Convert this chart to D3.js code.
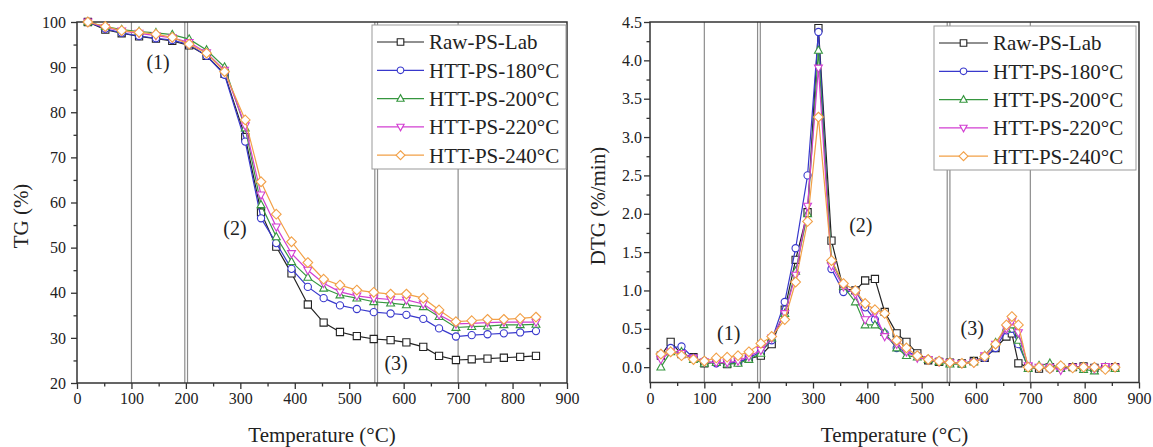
<!DOCTYPE html>
<meta charset="utf-8">

<style> /* set the CSS */

body { margin: 0; background: #fff; }

svg text {
	font-family: "Liberation Serif", Tinos, "DejaVu Serif", serif !important;
	fill: #222;
}

.frame {
	fill: none;
	stroke: #333;
	stroke-width: 1.5px;
}

.bound {
	stroke: #8c8c8c;
	stroke-width: 1.2px;
}

.curve {
	fill: none;
	stroke-width: 1.2px;
}

.axis line { stroke: #333; stroke-width: 1.3px; }
.axis path { display: none; }
.axis text { font-size: 16px; }

.legend-box {
	fill: #fff;
	stroke: #999;
	stroke-width: 1px;
}

</style>

<body>

<!-- load the d3.js library -->
<script src="https://d3js.org/d3.v7.min.js"></script>

<script>

	// series labels
	var names = ["Raw-PS-Lab", "HTT-PS-180°C", "HTT-PS-200°C", "HTT-PS-220°C", "HTT-PS-240°C"];

	// TG data (%), temperature in °C
	var tgTemp = [20, 52, 82, 114, 145, 175, 206, 238, 271, 309, 338, 366, 394, 424,
		453, 483, 514, 545, 576, 605, 636, 665, 696, 725, 754, 784, 814, 843];
	var tgRaw = [100, 98.3, 97.5, 96.8, 96.3, 95.8, 94.8, 92.5, 88.5, 74.5, 57.8, 50.2, 44.3, 37.4,
		33.4, 31.3, 30.4, 29.75, 29.5, 29.0, 28.0, 26.0, 25.1, 25.25, 25.4, 25.6, 25.8, 26.0];
	var tg180 = [100, 98.5, 97.6, 96.9, 96.4, 96.0, 95.0, 92.5, 88.3, 73.5, 56.5, 51.0, 45.3, 41.3,
		38.8, 37.2, 36.4, 35.7, 35.4, 35.1, 34.2, 32.1, 30.3, 30.6, 30.8, 31.0, 31.2, 31.5];
	var tg200 = [100, 99.0, 98.3, 97.9, 97.6, 97.2, 96.2, 93.8, 90.0, 76.5, 59.5, 52.4, 46.9, 43.4,
		41.0, 39.5, 38.8, 38.0, 37.7, 37.3, 36.9, 34.7, 32.3, 32.5, 32.6, 32.9, 32.9, 33.0];
	var tg220 = [100, 98.8, 98.0, 97.5, 97.0, 96.5, 95.5, 93.2, 89.3, 77.0, 61.7, 54.6, 48.7, 45.0,
		42.1, 40.2, 39.3, 38.8, 38.5, 38.4, 37.5, 35.1, 33.1, 33.2, 33.4, 33.5, 33.5, 33.5];
	var tg240 = [100, 99.0, 98.1, 97.7, 97.3, 96.6, 95.1, 93.1, 89.0, 78.3, 64.6, 57.4, 51.3, 46.7,
		43.0, 41.7, 40.6, 40.1, 39.7, 39.7, 38.8, 36.2, 33.6, 33.8, 34.1, 34.1, 34.3, 34.6];

	// DTG data (%/min)
	var dtgTemp = [20, 38, 58, 80, 100, 122, 142, 162, 182, 204, 224, 248, 268, 290, 310, 334, 356, 378,
		396, 414, 432, 454, 472, 492, 512, 532, 552, 574, 596, 616, 636, 656, 666, 678, 696, 716, 736,
		756, 778, 798, 818, 838, 856];
	var dtgRaw = [0.15, 0.33, 0.17, 0.13, 0.05, 0.07, 0.04, 0.07, 0.11, 0.15, 0.30, 0.75, 1.40, 2.02, 4.42,
		1.65, 1.02, 1.00, 1.13, 1.15, 0.72, 0.44, 0.33, 0.18, 0.09, 0.07, 0.06, 0.05, 0.08, 0.12, 0.25,
		0.40, 0.44, 0.05, 0.00, -0.02, 0.00, -0.01, 0.00, 0.01, -0.01, 0.00, 0.00];
	var dtg180 = [0.15, 0.25, 0.27, 0.12, 0.08, 0.05, 0.05, 0.06, 0.12, 0.20, 0.35, 0.85, 1.55, 2.50, 4.37,
		1.28, 0.98, 1.00, 0.78, 0.62, 0.44, 0.25, 0.20, 0.15, 0.10, 0.08, 0.06, 0.05, 0.07, 0.12, 0.25,
		0.48, 0.50, 0.30, 0.00, 0.00, -0.02, 0.00, 0.00, -0.01, 0.00, -0.01, 0.00];
	var dtg200 = [0.00, 0.20, 0.20, 0.10, 0.05, 0.06, 0.04, 0.05, 0.10, 0.18, 0.38, 0.70, 1.25, 2.00, 4.13,
		1.40, 1.05, 0.85, 0.55, 0.55, 0.45, 0.25, 0.15, 0.13, 0.10, 0.07, 0.04, 0.04, 0.07, 0.15, 0.32,
		0.50, 0.55, 0.35, -0.02, 0.02, 0.05, -0.02, 0.00, -0.03, -0.05, 0.00, -0.02];
	var dtg220 = [0.10, 0.20, 0.18, 0.12, 0.07, 0.06, 0.06, 0.08, 0.14, 0.22, 0.38, 0.70, 1.20, 2.10, 3.90,
		1.32, 1.05, 0.95, 0.62, 0.70, 0.40, 0.30, 0.20, 0.12, 0.10, 0.07, 0.06, 0.05, 0.06, 0.15, 0.30,
		0.50, 0.60, 0.45, 0.02, 0.00, 0.00, -0.04, 0.00, 0.00, -0.02, 0.01, 0.00];
	var dtg240 = [0.17, 0.20, 0.15, 0.10, 0.08, 0.12, 0.13, 0.15, 0.20, 0.31, 0.40, 0.62, 1.11, 1.90, 3.26,
		1.39, 1.09, 1.00, 0.83, 0.75, 0.70, 0.35, 0.25, 0.15, 0.10, 0.08, 0.06, 0.05, 0.06, 0.14, 0.30,
		0.55, 0.66, 0.55, 0.00, 0.00, -0.02, 0.02, -0.01, 0.00, 0.00, -0.03, 0.00];

	// stage boundaries (°C) and stage labels [temp, value, text]
	var bounds = [100, 198, 203, 547, 552, 700];
	var tgStages = [[149, 91.1, "(1)"], [290, 54.3, "(2)"], [586, 24.4, "(3)"]];
	var dtgStages = [[145, 0.44, "(1)"], [388, 1.85, "(2)"], [593, 0.505, "(3)"]];

	var colors = ["#222222", "#3838cc", "#36963f", "#d23fd2", "#f2a047"];
	var shapes = ["square", "circle", "up", "down", "diamond"];

	// marker shapes, s = half size
	function markerPath(type, s) {
		if (type == "square") return "M" + (-s) + "," + (-s) + "h" + 2 * s + "v" + 2 * s + "h" + (-2 * s) + "Z";
		if (type == "circle") return "M" + (-s) + ",0a" + s + "," + s + " 0 1,0 " + 2 * s + ",0a" + s + "," + s + " 0 1,0 " + (-2 * s) + ",0";
		if (type == "up") return "M0," + (-1.2 * s) + "L" + 1.1 * s + "," + 0.8 * s + "L" + (-1.1 * s) + "," + 0.8 * s + "Z";
		if (type == "down") return "M0," + 1.2 * s + "L" + 1.1 * s + "," + (-0.8 * s) + "L" + (-1.1 * s) + "," + (-0.8 * s) + "Z";
		return "M0," + (-1.35 * s) + "L" + 1.35 * s + ",0L0," + 1.35 * s + "L" + (-1.35 * s) + ",0Z";
	}

	var svg = d3.select("body").append("svg")
		.attr("width", 1153)
		.attr("height", 447)
		.attr("font-family", "Liberation Serif");

	function drawPanel(p) {
		var g = svg.append("g")
			.attr("transform", "translate(" + p.left + "," + p.top + ")");

		var x = d3.scaleLinear().domain([0, 900]).range([0, p.width]);
		var y = d3.scaleLinear().domain(p.yDomain).range([p.height, 0]);

		// stage boundaries
		g.selectAll(".bound")
			.data(bounds)
			.enter().append("line")
			.attr("class", "bound")
			.attr("x1", function(d) { return x(d); })
			.attr("x2", function(d) { return x(d); })
			.attr("y1", 0)
			.attr("y2", p.height);

		// axes: major + minor ticks
		g.append("g")
			.attr("class", "axis")
			.attr("transform", "translate(0," + p.height + ")")
			.call(d3.axisBottom(x).tickValues(d3.range(0, 901, 100)).tickSize(6).tickPadding(4));
		g.append("g")
			.attr("class", "axis")
			.attr("transform", "translate(0," + p.height + ")")
			.call(d3.axisBottom(x).tickValues(d3.range(50, 900, 100)).tickSize(3.5).tickFormat(""));
		g.append("g")
			.attr("class", "axis")
			.call(d3.axisLeft(y).tickValues(p.yTicks).tickSize(6).tickPadding(p.yPad).tickFormat(p.yFormat));
		g.append("g")
			.attr("class", "axis")
			.call(d3.axisLeft(y).tickValues(p.yMinor).tickSize(3.5).tickFormat(""));
		g.selectAll(".axis").attr("font-family", null);

		g.append("rect")
			.attr("class", "frame")
			.attr("width", p.width)
			.attr("height", p.height);

		// the curves
		var line = d3.line()
			.x(function(d) { return x(d[0]); })
			.y(function(d) { return y(d[1]); });

		p.series.forEach(function(vals, i) {
			var pts = p.temps.map(function(t, j) { return [t, vals[j]]; });
			g.append("path")
				.datum(pts)
				.attr("class", "curve")
				.attr("stroke", colors[i])
				.attr("d", line);
			g.selectAll(".m" + i)
				.data(pts)
				.enter().append("path")
				.attr("class", "m" + i)
				.attr("transform", function(d) { return "translate(" + x(d[0]) + "," + y(d[1]) + ")"; })
				.attr("d", markerPath(shapes[i], 3.6))
				.attr("fill", "#fff")
				.attr("stroke", colors[i])
				.attr("stroke-width", 1.1);
		});

		// stage labels
		g.selectAll(".stage")
			.data(p.stages)
			.enter().append("text")
			.attr("x", function(d) { return x(d[0]); })
			.attr("y", function(d) { return y(d[1]); })
			.attr("dy", "0.35em")
			.attr("text-anchor", "middle")
			.style("font-size", "20px")
			.text(function(d) { return d[2]; });

		// axis titles
		g.append("text")
			.attr("x", p.width / 2)
			.attr("y", p.height + 59)
			.attr("text-anchor", "middle")
			.style("font-size", "21px")
			.text("Temperature (°C)");
		g.append("text")
			.attr("transform", "translate(" + p.yTitleX + "," + p.yTitleY + ") rotate(-90)")
			.attr("text-anchor", "middle")
			.attr("dy", "0.35em")
			.style("font-size", "21px")
			.text(p.yTitle);

		// legend
		var lg = g.append("g")
			.attr("transform", "translate(" + p.legend[0] + "," + p.legend[1] + ")");
		lg.append("rect")
			.attr("class", "legend-box")
			.attr("width", p.legend[2])
			.attr("height", 144);
		names.forEach(function(n, i) {
			var ry = 17 + i * 28.3;
			lg.append("line")
				.attr("x1", 5).attr("x2", 5 + p.legend[3])
				.attr("y1", ry).attr("y2", ry)
				.attr("stroke", colors[i])
				.attr("stroke-width", 1.2);
			lg.append("path")
				.attr("transform", "translate(" + (5 + p.legend[3] / 2) + "," + ry + ")")
				.attr("d", markerPath(shapes[i], 3.3))
				.attr("fill", "#fff")
				.attr("stroke", colors[i])
				.attr("stroke-width", 1.1);
			lg.append("text")
				.attr("x", p.legend[3] + 10)
				.attr("y", ry)
				.attr("dy", "0.35em")
				.style("font-size", "21px")
				.text(n);
		});
	}

	// TG panel
	drawPanel({
		left: 77, top: 22, width: 490, height: 361,
		yDomain: [20, 100],
		yTicks: d3.range(20, 101, 10),
		yMinor: d3.range(25, 100, 10),
		yFormat: d3.format("d"),
		yPad: 5,
		yTitle: "TG (%)", yTitleX: -56, yTitleY: 194,
		temps: tgTemp,
		series: [tgRaw, tg180, tg200, tg220, tg240],
		stages: tgStages,
		legend: [295, 3, 194, 47]
	});

	// DTG panel
	drawPanel({
		left: 650, top: 22, width: 489, height: 360.5,
		yDomain: [-0.2, 4.5],
		yTicks: d3.range(0, 4.51, 0.5),
		yMinor: d3.range(0.25, 4.5, 0.5),
		yFormat: d3.format(".1f"),
		yPad: 2,
		yTitle: "DTG (%/min)", yTitleX: -52, yTitleY: 184,
		temps: dtgTemp,
		series: [dtgRaw, dtg180, dtg200, dtg220, dtg240],
		stages: dtgStages,
		legend: [284, 4, 202, 49]
	});

</script>
</body>
